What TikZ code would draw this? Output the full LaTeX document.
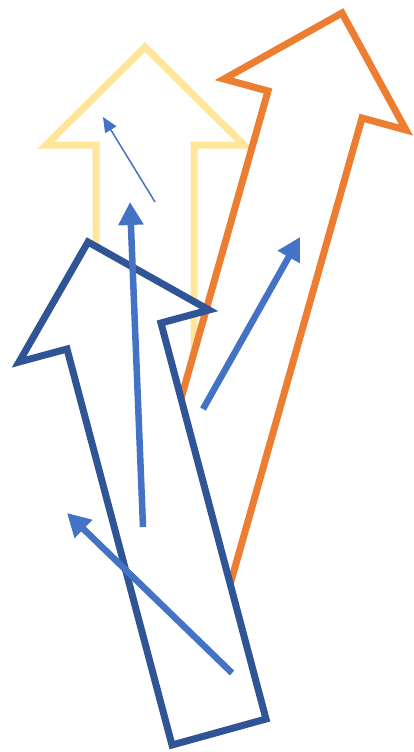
\documentclass[tikz,border=0pt]{standalone}
\usetikzlibrary{arrows.meta}
\definecolor{yel}{HTML}{FFE699}
\definecolor{ora}{HTML}{ED7D31}
\definecolor{dbl}{HTML}{2F5597}
\definecolor{blu}{HTML}{4472C4}
\begin{document}
\begin{tikzpicture}[x=1pt,y=-1pt,
  blockarrow/.style={line width=7pt, fill=white, line join=miter},
  thickarrow/.style={blu, line width=6.5pt, -{Triangle[length=23pt,width=24pt]}},
  thinarrow/.style={blu, line width=1.5pt, -{Triangle[length=15pt,width=13pt]}}]
\useasboundingbox (0,0) rectangle (413,752);
\fill[white] (0,0) rectangle (413,752);
% yellow block arrow
\draw[blockarrow, draw=yel] (145,47) -- (244,145) -- (194,145) -- (194,420)
  -- (96,420) -- (96,145) -- (46,145) -- cycle;
% orange block arrow
\draw[blockarrow, draw=ora] (342,13) -- (406,130) -- (362,118) -- (226,599)
  -- (132,572) -- (268,91) -- (224,79) -- cycle;
% dark blue block arrow
\draw[blockarrow, draw=dbl] (88,242) -- (209,310) -- (161,323) -- (266,719)
  -- (172,745) -- (67,349) -- (19,362) -- cycle;
% blue arrows
\coordinate (t1) at (155,202); \coordinate (h1) at (103,117);
\coordinate (t2) at (143,527); \coordinate (h2) at (130,202);
\coordinate (t3) at (203,409); \coordinate (h3) at (300,237);
\coordinate (t4) at (232,673); \coordinate (h4) at (67,513);
\draw[thinarrow] (t1) -- (h1);
\draw[thickarrow] (t2) -- (h2);
\draw[thickarrow] (t3) -- (h3);
\draw[thickarrow] (t4) -- (h4);
\end{tikzpicture}
\end{document}
